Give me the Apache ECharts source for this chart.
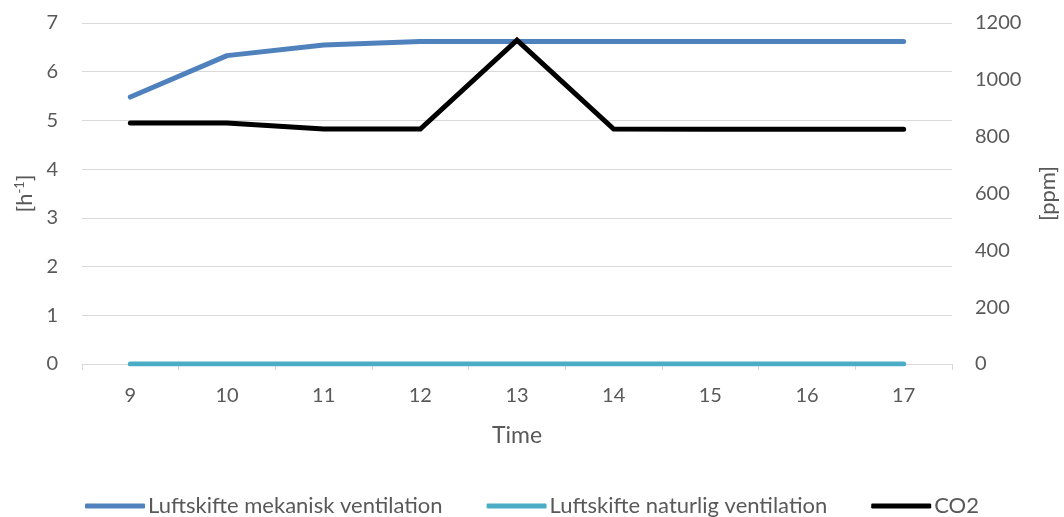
<!DOCTYPE html>
<html>
<head>
<meta charset="utf-8">
<script src="https://cdn.jsdelivr.net/npm/echarts@6/dist/echarts.min.js"></script>
<style>
html,body{margin:0;padding:0;background:#fff;}
#chart{width:1064px;height:517px;}
</style>
</head>
<body>
<div id="chart"></div>
<script>
// Hours of the day
const hours = ['9', '10', '11', '12', '13', '14', '15', '16', '17'];
// Air change rates [h-1]
const mekanisk = [5.48, 6.33, 6.55, 6.62, 6.62, 6.62, 6.62, 6.62, 6.62];
const naturlig = [0, 0, 0, 0, 0, 0, 0, 0, 0];
// CO2 concentration [ppm]
const co2 = [848, 848, 827, 827, 1140, 827, 826, 826, 826];

const txt = '#595959';
const font = 'Lato, "Open Sans", sans-serif';

const chart = echarts.init(document.getElementById('chart'));
chart.setOption({
  animation: false,
  textStyle: { fontFamily: font },
  grid: { left: 82, right: 112, top: 23, bottom: 153, outerBoundsMode: 'none', containLabel: false },
  legend: {
    bottom: 0,
    left: 'center',
    padding: [5, 5, 0, 5],
    itemWidth: 60,
    itemHeight: 5,
    itemGap: 44,
    icon: 'roundRect',
    textStyle: { color: txt, fontSize: 22, fontFamily: font, padding: [0, 0, 0, -2] },
    data: ['Luftskifte mekanisk ventilation', 'Luftskifte naturlig ventilation', 'CO2']
  },
  xAxis: {
    type: 'category',
    data: hours,
    boundaryGap: true,
    name: 'Time',
    nameLocation: 'middle',
    nameGap: 60,
    nameTextStyle: { color: txt, fontSize: 23 },
    axisLine: { lineStyle: { color: '#d9d9d9', width: 1 } },
    axisTick: { show: true, length: 6, lineStyle: { color: '#d9d9d9' } },
    axisLabel: { color: txt, fontSize: 20, margin: 22 }
  },
  yAxis: [
    {
      type: 'value',
      min: 0, max: 7, interval: 1,
      name: '[h{sup|-1}]',
      nameLocation: 'middle',
      nameGap: 40,
      nameRotate: 90,
      nameTextStyle: {
        color: txt, fontSize: 22,
        rich: { sup: { fontSize: 13, color: txt, verticalAlign: 'top', padding: [0, 0, 9, 0] } }
      },
      axisLine: { show: false },
      axisTick: { show: false },
      axisLabel: { color: txt, fontSize: 20, margin: 24 },
      splitLine: { lineStyle: { color: '#d9d9d9', width: 1 } }
    },
    {
      type: 'value',
      min: 0, max: 1200, interval: 200,
      name: '[ppm]',
      nameLocation: 'middle',
      nameGap: 85,
      nameRotate: 90,
      nameTextStyle: { color: txt, fontSize: 22 },
      axisLine: { show: false },
      axisTick: { show: false },
      axisLabel: { color: txt, fontSize: 20, margin: 23, formatter: v => String(v) },
      splitLine: { show: false }
    }
  ],
  series: [
    {
      name: 'Luftskifte mekanisk ventilation',
      type: 'line', yAxisIndex: 0, data: mekanisk,
      showSymbol: false, symbol: 'none',
      lineStyle: { color: '#4f81bd', width: 5, cap: 'round', join: 'round' },
      itemStyle: { color: '#4f81bd' }
    },
    {
      name: 'Luftskifte naturlig ventilation',
      type: 'line', yAxisIndex: 0, data: naturlig,
      showSymbol: false, symbol: 'none',
      lineStyle: { color: '#4bacc6', width: 5, cap: 'round', join: 'round' },
      itemStyle: { color: '#4bacc6' }
    },
    {
      name: 'CO2',
      type: 'line', yAxisIndex: 1, data: co2,
      showSymbol: false, symbol: 'none',
      lineStyle: { color: '#000000', width: 5, cap: 'round', join: 'miter' },
      itemStyle: { color: '#000000' }
    }
  ]
});
</script>
</body>
</html>
